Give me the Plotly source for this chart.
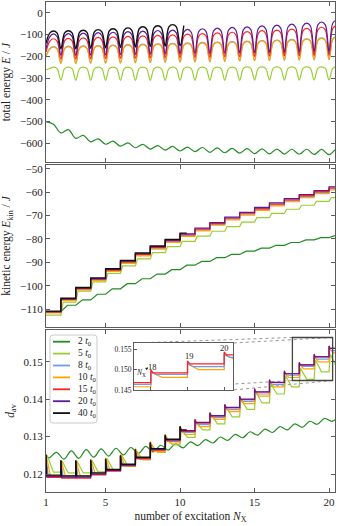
import plotly.graph_objects as go

# ─── DESIGN TOKENS ────────────────────────────────────────────
FRAME  = "#5b5b5b"
INK    = "#222222"
SERIF  = "Liberation Serif"
GREEN2 = "#228b22"
LIME5  = "#9acd32"
BLUE8  = "#6f9be8"
ORNG10 = "#ffa500"
RED15  = "#ff2020"
PURP20 = "#5a1a9c"
BLK40  = "#111111"

W, H = 339, 526
ML, MR, MT, MB = 46, 4, 2, 34

# ─── DATA ─────────────────────────────────────────────────────
X_RANGE = [1.0, 20.4]
X_TICKS = [1, 5, 10, 15, 20]
N_EXC = list(range(1, 22))          # excitation instants (cusps / jumps)
BLACK_END = 10.45                   # the 40 t0 run stops here

PULSE_LABELS = ["2", "5", "8", "10", "15", "20", "40"]
PULSE_COLORS = [GREEN2, LIME5, BLUE8, ORNG10, RED15, PURP20, BLK40]

# total energy E/J: value at each cusp (integer N), on the flanks (N+1/4, N+3/4)
# and at the top of each arc (N+1/2)
E_CUSP_2  = [-500, -552, -577, -593, -604, -613, -620, -626, -631, -635, -638,
             -641, -643, -645, -647, -648, -649, -650, -651, -652, -653]
E_TOP_2   = [-512, -537, -563, -579, -590, -598, -605, -610, -614, -617,
             -619, -621, -623, -624, -625, -626, -627, -627, -628, -628]
E_CUSP_5  = [-262, -309, -310, -310, -310, -310, -310, -310, -310, -310, -310,
             -310, -310, -310, -309, -309, -309, -309, -308, -308, -308]
E_SIDE_5  = [-256, -256, -256, -256, -256, -256, -256, -256, -256, -256,
             -256, -256, -256, -255, -255, -255, -255, -255, -255, -255]
E_TOP_5   = [-249, -249, -249, -249, -249, -249, -249, -249, -249, -249,
             -249, -249, -249, -248, -248, -248, -248, -248, -248, -248]
E_CUSP_8  = [-198, -231, -231, -230, -230, -229, -228, -227, -226, -225, -224,
             -223, -222, -220, -219, -218, -217, -216, -215, -214, -213]
E_SIDE_8  = [-165, -163, -162, -160, -158, -156, -154, -152, -150, -148,
             -146, -144, -142, -140, -137, -135, -132, -129, -125, -120]
E_TOP_8   = [-155, -153, -152, -150, -148, -146, -144, -142, -140, -138,
             -136, -134, -132, -130, -127, -125, -122, -119, -115, -110]
E_CUSP_10 = [-200, -233, -233, -232, -232, -231, -230, -229, -228, -227, -226,
             -225, -224, -222, -221, -220, -219, -218, -217, -216, -215]
E_SIDE_10 = [-167, -165, -164, -162, -160, -158, -156, -154, -152, -150,
             -148, -146, -144, -142, -139, -137, -134, -131, -127, -122]
E_TOP_10  = [-157, -155, -154, -152, -150, -148, -146, -144, -142, -140,
             -138, -136, -134, -132, -129, -127, -124, -121, -117, -112]
E_CUSP_15 = [-180, -212, -212, -211, -210, -209, -208, -207, -206, -205, -204,
             -203, -202, -201, -200, -199, -198, -197, -196, -195, -194]
E_SIDE_15 = [-131, -129, -127, -125, -122, -120, -118, -115, -113, -110,
             -107, -104, -101, -98, -94, -91, -87, -83, -78, -72]
E_TOP_15  = [-119, -117, -115, -113, -110, -108, -106, -103, -101, -98,
             -95, -92, -89, -86, -82, -79, -75, -71, -66, -60]
E_CUSP_20 = [-165, -195, -195, -194, -193, -192, -191, -190, -189, -188, -187,
             -186, -185, -184, -183, -182, -181, -180, -179, -178, -177]
E_SIDE_20 = [-110, -108, -106, -104, -102, -99, -97, -94, -92, -89,
             -86, -83, -80, -77, -73, -69, -65, -60, -55, -48]
E_TOP_20  = [-97, -95, -93, -91, -89, -86, -84, -81, -79, -76,
             -73, -70, -67, -64, -60, -56, -52, -47, -42, -35]
E_CUSP_40 = [-140, -165, -165, -163, -161, -159, -157, -155, -153, -151, -149]
E_SIDE_40 = [-93, -92, -90, -87, -83, -79, -74, -69, -64, -59]
E_TOP_40  = [-83, -82, -80, -77, -73, -69, -64, -59, -54, -49]

# kinetic energy E_kin/J: plateau after each excitation
K_LEVEL_2  = [-111.0, -108.3, -106.0, -103.6, -101.3, -99.1, -97.0, -95.0, -93.1, -91.2,
              -89.6, -88.0, -86.6, -85.2, -83.9, -82.7, -81.5, -80.4, -79.4, -78.5]
K_LEVEL_5  = [-112.5, -107.0, -102.3, -98.3, -94.7, -91.5, -88.5, -85.8, -83.3, -81.0,
              -78.8, -76.7, -74.7, -72.8, -70.9, -69.1, -67.3, -65.6, -63.9, -62.3]
K_LEVEL_8  = [-111.4, -106.0, -101.5, -97.4, -93.6, -90.1, -86.9, -84.0, -81.2, -78.6,
              -76.2, -73.8, -71.5, -69.4, -67.4, -65.5, -63.7, -61.9, -60.2, -58.6]
K_LEVEL_10 = [-111.6, -106.2, -101.7, -97.7, -93.9, -90.4, -87.2, -84.3, -81.5, -78.9,
              -76.5, -74.1, -71.9, -69.8, -67.8, -65.9, -64.1, -62.3, -60.6, -59.0]
K_LEVEL_15 = [-111.2, -105.8, -101.2, -97.2, -93.3, -89.8, -86.6, -83.6, -80.8, -78.2,
              -75.8, -73.4, -71.1, -69.0, -67.0, -65.1, -63.3, -61.5, -59.8, -58.2]
K_LEVEL_20 = [-111.0, -105.6, -101.0, -96.9, -93.0, -89.5, -86.3, -83.3, -80.5, -77.8,
              -75.4, -73.0, -70.7, -68.6, -66.5, -64.6, -62.8, -61.0, -59.3, -57.7]
K_LEVEL_40 = [-110.8, -105.3, -100.7, -96.6, -92.7, -89.2, -86.0, -83.0, -80.2, -77.5]

# average distance d_av: value right after each jump (top) and the plateau reached (floor)
D_TOP_5    = [0.1250, 0.1235, 0.1235, 0.1237, 0.1242, 0.1250, 0.1262, 0.1278, 0.1298, 0.1320,
              0.1340, 0.1360, 0.1380, 0.1400, 0.1420, 0.1442, 0.1463, 0.1483, 0.1505, 0.1520]
D_FLOOR_5  = [0.1205, 0.1203, 0.1203, 0.1206, 0.1212, 0.1222, 0.1238, 0.1258, 0.1278, 0.1298,
              0.1318, 0.1334, 0.1353, 0.1373, 0.1390, 0.1414, 0.1433, 0.1453, 0.1473, 0.1487]
D_TOP_8    = [0.1250, 0.1236, 0.1236, 0.1237, 0.1240, 0.1249, 0.1264, 0.1283, 0.1302, 0.1324,
              0.1343, 0.1361, 0.1382, 0.1404, 0.1424, 0.1448, 0.1471, 0.1494, 0.1515, 0.1537]
D_FLOOR_8  = [0.1195, 0.1193, 0.1193, 0.1201, 0.1210, 0.1223, 0.1241, 0.1263, 0.1287, 0.1311,
              0.1332, 0.1351, 0.1372, 0.1394, 0.1414, 0.1439, 0.1464, 0.1488, 0.1507, 0.1530]
D_TOP_10   = [0.1252, 0.1238, 0.1238, 0.1240, 0.1243, 0.1252, 0.1268, 0.1287, 0.1306, 0.1327,
              0.1346, 0.1364, 0.1386, 0.1406, 0.1426, 0.1450, 0.1472, 0.1494, 0.1514, 0.1537]
D_FLOOR_10 = [0.1196, 0.1195, 0.1195, 0.1202, 0.1210, 0.1222, 0.1239, 0.1260, 0.1283, 0.1306,
              0.1327, 0.1346, 0.1367, 0.1388, 0.1408, 0.1433, 0.1458, 0.1481, 0.1500, 0.1524]
D_TOP_15   = [0.1250, 0.1235, 0.1235, 0.1236, 0.1239, 0.1248, 0.1264, 0.1283, 0.1303, 0.1326,
              0.1346, 0.1364, 0.1386, 0.1408, 0.1428, 0.1452, 0.1476, 0.1499, 0.1521, 0.1543]
D_FLOOR_15 = [0.1191, 0.1189, 0.1189, 0.1198, 0.1208, 0.1222, 0.1241, 0.1264, 0.1289, 0.1314,
              0.1336, 0.1355, 0.1377, 0.1399, 0.1419, 0.1444, 0.1468, 0.1492, 0.1514, 0.1536]
D_TOP_20   = [0.1250, 0.1235, 0.1235, 0.1236, 0.1239, 0.1248, 0.1264, 0.1283, 0.1303, 0.1326,
              0.1346, 0.1364, 0.1386, 0.1408, 0.1428, 0.1452, 0.1475, 0.1498, 0.1520, 0.1542]
D_FLOOR_20 = [0.1194, 0.1192, 0.1192, 0.1200, 0.1210, 0.1224, 0.1243, 0.1266, 0.1291, 0.1316,
              0.1338, 0.1356, 0.1378, 0.1400, 0.1420, 0.1445, 0.1468, 0.1492, 0.1513, 0.1536]
D_TOP_40   = [0.1252, 0.1237, 0.1237, 0.1238, 0.1241, 0.1250, 0.1266, 0.1285, 0.1305, 0.1328]
D_FLOOR_40 = [0.1197, 0.1195, 0.1195, 0.1203, 0.1212, 0.1226, 0.1245, 0.1268, 0.1293, 0.1318]
# 2 t0 oscillates instead of stepping: start, then trough / crest in every period
D_START_2  = 0.1250
D_LOW_2    = [0.1243, 0.1240, 0.1242, 0.1245, 0.1248, 0.1251, 0.1255, 0.1259, 0.1264, 0.1270,
              0.1276, 0.1283, 0.1290, 0.1297, 0.1304, 0.1311, 0.1318, 0.1325, 0.1333, 0.1341]
D_HIGH_2   = [0.1258, 0.1262, 0.1265, 0.1267, 0.1269, 0.1271, 0.1274, 0.1277, 0.1281, 0.1286,
              0.1292, 0.1299, 0.1306, 0.1313, 0.1320, 0.1327, 0.1334, 0.1341, 0.1349, 0.1357]

E_TICKS = [0, -100, -200, -300, -400, -500, -600]
K_TICKS = [-50, -60, -70, -80, -90, -100, -110]
D_TICKS = [0.12, 0.13, 0.14, 0.15]
INSET_XTICKS = [18, 19, 20]
INSET_YTICKS = [0.145, 0.150, 0.155]
INSET_X = [17.54, 20.24]
INSET_Y = [0.145, 0.1565]


# ─── GEOMETRY HELPERS ─────────────────────────────────────────
def paper_x(xp):
    return (xp - ML) / (W - ML - MR)


def paper_y(yp):
    return (H - MB - yp) / (H - MT - MB)


P1 = [paper_y(162.3), 1.0]
P2 = [paper_y(327), paper_y(165)]
P3 = [0.0, paper_y(330)]
INSET_DX = [paper_x(134), paper_x(233)]
INSET_DY = [paper_y(390), paper_y(343)]

E_RANGE = [-687, 50]
K_RANGE = [-117.6, -48.4]
D_RANGE = [0.1152, 0.1585]
FAR = X_RANGE[1] + 1


# ─── CURVE BUILDERS ───────────────────────────────────────────
def arcs(cusp, top, side=None, end=FAR):
    xs, ys = [], []
    for i, t in enumerate(top):
        n = N_EXC[i]
        pts = [(n, cusp[i]), (n + 0.5, t)]
        if side is not None:
            pts = [(n, cusp[i]), (n + 0.25, side[i]), (n + 0.5, t), (n + 0.75, side[i])]
        for x, y in pts:
            if x <= end:
                xs.append(x)
                ys.append(y)
    if len(cusp) > len(top) and N_EXC[len(top)] <= end:
        xs.append(N_EXC[len(top)])
        ys.append(cusp[len(top)])
    return xs, ys


def stairs(levels, ramp=0.0, end=FAR):
    xs, ys = [], []
    for i, lev in enumerate(levels):
        n = N_EXC[i]
        if i > 0 and ramp > 0:
            xs.append(n)
            ys.append(levels[i - 1])
        xs.append(n + (ramp if i > 0 else 0))
        ys.append(lev)
    xs.append(end)
    ys.append(levels[-1])
    return xs, ys


def relax(top, floor, decay, rise=0.0, end=FAR):
    xs, ys = [], []
    for i, (t, f) in enumerate(zip(top, floor)):
        n = N_EXC[i]
        if i > 0:
            xs.append(n)
            ys.append(floor[i - 1])
        xs += [n + rise, n + decay, min(n + 1, end)]
        ys += [t, f, f]
        if n + 1 > end:
            break
    return xs, ys


def wave(start, low, high):
    xs, ys = [N_EXC[0]], [start]
    for i, (lo, hi) in enumerate(zip(low, high)):
        xs += [N_EXC[i] + 0.2, N_EXC[i] + 0.7]
        ys += [lo, hi]
    return xs, ys


def frame(**kw):
    ax = dict(
        showline=True, linecolor=FRAME, linewidth=1.3, mirror="ticks",
        ticks="inside", ticklen=4, tickwidth=1, tickcolor=FRAME,
        showgrid=False, zeroline=False, automargin=False,
        tickfont=dict(family=SERIF, size=11, color=INK),
    )
    ax.update(kw)
    return ax


fig = go.Figure()


def add(xy, color, xa, ya, width=1.2, shape="linear"):
    fig.add_trace(go.Scatter(
        x=xy[0], y=xy[1], mode="lines", xaxis=xa, yaxis=ya,
        line=dict(color=color, width=width, shape=shape),
        hoverinfo="skip", showlegend=False,
    ))


# ─── PANEL 1: TOTAL ENERGY ────────────────────────────────────
add(arcs(E_CUSP_2, E_TOP_2), GREEN2, "x", "y", shape="spline")
for cusp, top, side, col in [(E_CUSP_5, E_TOP_5, E_SIDE_5, LIME5),
                             (E_CUSP_8, E_TOP_8, E_SIDE_8, BLUE8),
                             (E_CUSP_10, E_TOP_10, E_SIDE_10, ORNG10),
                             (E_CUSP_15, E_TOP_15, E_SIDE_15, RED15),
                             (E_CUSP_20, E_TOP_20, E_SIDE_20, PURP20)]:
    add(arcs(cusp, top, side), col, "x", "y", shape="spline")
add(arcs(E_CUSP_40, E_TOP_40, E_SIDE_40, BLACK_END), BLK40, "x", "y", width=1.4, shape="spline")

# ─── PANEL 2: KINETIC ENERGY ──────────────────────────────────
add(stairs(K_LEVEL_2, ramp=0.45), GREEN2, "x2", "y2")
add(stairs(K_LEVEL_5, ramp=0.15), LIME5, "x2", "y2")
for lev, col in [(K_LEVEL_8, BLUE8), (K_LEVEL_10, ORNG10),
                 (K_LEVEL_15, RED15), (K_LEVEL_20, PURP20)]:
    add(stairs(lev), col, "x2", "y2", shape="hv")
add(stairs(K_LEVEL_40, end=BLACK_END), BLK40, "x2", "y2", width=1.4, shape="hv")

# ─── PANEL 3: AVERAGE DISTANCE ────────────────────────────────
add(wave(D_START_2, D_LOW_2, D_HIGH_2), GREEN2, "x3", "y3", shape="spline")
add(relax(D_TOP_5, D_FLOOR_5, 0.5, rise=0.08), LIME5, "x3", "y3")
add(relax(D_TOP_8, D_FLOOR_8, 0.15), BLUE8, "x3", "y3")
add(relax(D_TOP_10, D_FLOOR_10, 0.3), ORNG10, "x3", "y3")
add(relax(D_TOP_15, D_FLOOR_15, 0.06), RED15, "x3", "y3")
add(relax(D_TOP_20, D_FLOOR_20, 0.05), PURP20, "x3", "y3")
add(relax(D_TOP_40, D_FLOOR_40, 0.04, end=BLACK_END), BLK40, "x3", "y3", width=1.4)

# inset (zoom on the last three excitations)
add(relax(D_TOP_10, D_FLOOR_10, 0.3), ORNG10, "x4", "y4")
add(relax(D_TOP_8, D_FLOOR_8, 0.15), BLUE8, "x4", "y4")
add(relax(D_TOP_15, D_FLOOR_15, 0.06), RED15, "x4", "y4")


# ─── INSET MARKER & CONNECTORS ────────────────────────────────
def d_to_paper(x, y):
    px = (x - X_RANGE[0]) / (X_RANGE[1] - X_RANGE[0])
    py = P3[0] + (y - D_RANGE[0]) / (D_RANGE[1] - D_RANGE[0]) * (P3[1] - P3[0])
    return px, py


shapes = []
corners_main = [d_to_paper(INSET_X[i], INSET_Y[j]) for i, j in ((0, 1), (1, 1), (0, 0), (1, 0))]
corners_inset = [(INSET_DX[i], INSET_DY[j]) for i, j in ((0, 1), (1, 1), (0, 0), (1, 0))]
for (x0, y0), (x1, y1) in zip(corners_main, corners_inset):
    shapes.append(dict(type="line", xref="paper", yref="paper", x0=x0, y0=y0, x1=x1, y1=y1,
                       line=dict(color="#8a8a8a", width=0.9, dash="dot"), layer="below"))
shapes.append(dict(type="rect", xref="paper", yref="paper",
                   x0=INSET_DX[0], x1=INSET_DX[1], y0=INSET_DY[0], y1=INSET_DY[1],
                   fillcolor="white", line=dict(width=0), layer="below"))
shapes.append(dict(type="rect", xref="x3", yref="y3",
                   x0=INSET_X[0], x1=INSET_X[1], y0=INSET_Y[0], y1=INSET_Y[1],
                   line=dict(color="#444444", width=1.3), layer="above"))

# ─── HAND-DRAWN LEGEND (matplotlib-like compact box) ──────────
LEG_L, LEG_T, LEG_R, LEG_B = 50, 335, 97, 423
rad = 3
lx0, lx1 = paper_x(LEG_L), paper_x(LEG_R)
ly0, ly1 = paper_y(LEG_B), paper_y(LEG_T)
rx, ry = rad / (W - ML - MR), rad / (H - MT - MB)
shapes.append(dict(
    type="path", xref="paper", yref="paper",
    path=(f"M{lx0 + rx},{ly1} L{lx1 - rx},{ly1} Q{lx1},{ly1} {lx1},{ly1 - ry} "
          f"L{lx1},{ly0 + ry} Q{lx1},{ly0} {lx1 - rx},{ly0} L{lx0 + rx},{ly0} "
          f"Q{lx0},{ly0} {lx0},{ly0 + ry} L{lx0},{ly1 - ry} Q{lx0},{ly1} {lx0 + rx},{ly1} Z"),
    fillcolor="rgba(255,255,255,0.85)", line=dict(color="#c4c4c4", width=0.9), layer="above",
))
annotations = []
for i, (lab, col) in enumerate(zip(PULSE_LABELS, PULSE_COLORS)):
    yp = paper_y(341.7 + i * 11.9)
    shapes.append(dict(type="line", xref="paper", yref="paper",
                       x0=paper_x(53), x1=paper_x(70), y0=yp, y1=yp,
                       line=dict(color=col, width=1.8), layer="above"))
    annotations.append(dict(xref="paper", yref="paper", x=paper_x(76), y=yp,
                            text=f"{lab} <i>t</i><sub>0</sub>", showarrow=False,
                            xanchor="left", yanchor="middle",
                            font=dict(family=SERIF, size=9.5, color=INK)))

# inset labels
for xv, yv, txt in [(18.05, 0.1507, "18"), (19.05, 0.1532, "19"), (20.02, 0.1554, "20")]:
    annotations.append(dict(xref="x4", yref="y4", x=xv, y=yv, text=txt, showarrow=False,
                            font=dict(family=SERIF, size=8.5, color=INK)))
annotations.append(dict(xref="x4", yref="y4", x=17.93, y=0.1505, ax=17.72, ay=0.1492,
                        axref="x4", ayref="y4", text="<i>N</i><sub>X</sub>", showarrow=True,
                        arrowhead=2, arrowsize=0.7, arrowwidth=0.8, arrowcolor=INK,
                        font=dict(family=SERIF, size=7.5, color=INK)))

# ─── LAYOUT ───────────────────────────────────────────────────
title_font = dict(family=SERIF, size=11.5, color=INK)
fig.update_layout(
    width=W, height=H,
    margin=dict(l=ML, r=MR, t=MT, b=MB, autoexpand=False),
    paper_bgcolor="white", plot_bgcolor="rgba(0,0,0,0)",
    font=dict(family=SERIF, size=11, color=INK),
    showlegend=False,
    xaxis=frame(domain=[0, 1], anchor="y", range=X_RANGE, tickvals=X_TICKS, showticklabels=False),
    yaxis=frame(domain=P1, anchor="x", range=E_RANGE, tickvals=E_TICKS,
                title=dict(text="total energy <i>E</i> / <i>J</i>", font=title_font, standoff=6)),
    xaxis2=frame(domain=[0, 1], anchor="y2", range=X_RANGE, tickvals=X_TICKS, showticklabels=False),
    yaxis2=frame(domain=P2, anchor="x2", range=K_RANGE, tickvals=K_TICKS,
                 title=dict(text="kinetic energy <i>E</i><sub>kin</sub> / <i>J</i>",
                            font=title_font, standoff=6)),
    xaxis3=frame(domain=[0, 1], anchor="y3", range=X_RANGE, tickvals=X_TICKS,
                 title=dict(text="number of excitation <i>N</i><sub>X</sub>",
                            font=title_font, standoff=4)),
    yaxis3=frame(domain=P3, anchor="x3", range=D_RANGE, tickvals=D_TICKS, tickformat=".2f",
                 title=dict(text="<i>d</i><sub>av</sub>", font=title_font, standoff=6)),
    xaxis4=frame(domain=INSET_DX, anchor="y4", range=INSET_X, tickvals=INSET_XTICKS,
                 showticklabels=False, mirror=True, linewidth=1.1, ticklen=3),
    yaxis4=frame(domain=INSET_DY, anchor="x4", range=INSET_Y, tickvals=INSET_YTICKS,
                 tickformat=".3f", mirror=True, linewidth=1.1, ticklen=3,
                 tickfont=dict(family=SERIF, size=7.5, color=INK)),
    shapes=shapes,
    annotations=annotations,
)

# the page's default 8px body margin would shift the fixed-size figure
fig.write_html("out.html", config={"displayModeBar": False},
               post_script="document.body.style.margin='0';")
